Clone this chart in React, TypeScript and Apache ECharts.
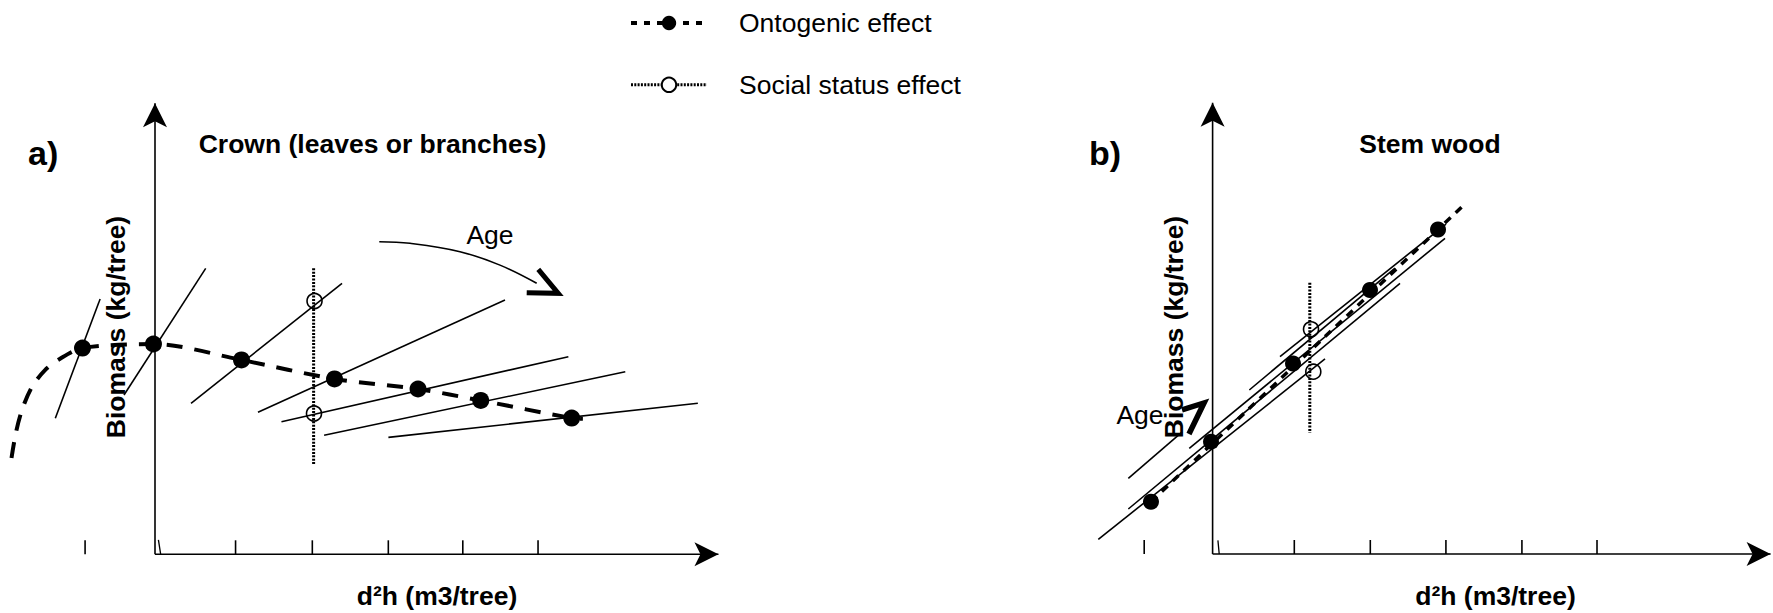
import React, { useEffect, useRef } from "react";
import * as echarts from "echarts";

type P = [number, number];

// ---------- Panel a: Crown (leaves or branches) — schematic units (1 = one tick step)
const crownTicks: number[] = [-0.92, 1.06, 2.07, 3.07, 4.05, 5.04];
const crownOriginTick: P[] = [[0.045, 0.19], [0.075, 0]];
const crownAxisY: P[] = [[0, 0], [0, 5.934]];
const crownAxisX: P[] = [[0, 0], [7.414, 0]];
const crownDots: P[] = [
  [-0.954, 2.714], [-0.02, 2.767], [1.138, 2.557], [2.362, 2.307],
  [3.461, 2.175], [4.286, 2.024], [5.483, 1.793],
];
const crownOntogenicLead: P[] = [
  [-1.888, 1.267], [-1.83, 1.6], [-1.75, 1.9], [-1.62, 2.2], [-1.45, 2.42], [-1.254, 2.57],
];
const crownOntogenicTail: P[] = [[5.63, 1.784]];
const crownAgeLines: P[][] = [
  [[-1.312, 1.789], [-0.722, 3.359]],
  [[-0.408, 2.096], [0.667, 3.763]],
  [[0.474, 1.987], [2.461, 3.566]],
  [[1.355, 1.868], [4.605, 3.346]],
  [[1.664, 1.745], [5.439, 2.6]],
  [[2.225, 1.566], [6.188, 2.403]],
  [[3.071, 1.539], [7.143, 1.987]],
];
const crownSocialLine: P[] = [[2.087, 3.763], [2.087, 1.188]];
const crownSocialCircles: P[] = [[2.099, 3.333], [2.092, 1.853]];
const crownAgeArrowCurve: P[] = [[2.951, 4.113], [3.355, 4.092], [4.013, 3.982], [4.539, 3.805], [5.022, 3.566]];
const crownAgeArrowHead: P[] = [[5.043, 3.75], [5.306, 3.434], [4.891, 3.442]];

// ---------- Panel b: Stem wood
const stemTicks: number[] = [-0.9, 1.075, 2.075, 3.07, 4.07, 5.058];
const stemOriginTick: P[] = [[0.07, 0.18], [0.087, 0]];
const stemAxisY: P[] = [[0, 0], [0, 5.938]];
const stemAxisX: P[] = [[0, 0], [7.342, 0]];
const stemDots: P[] = [
  [-0.811, 0.688], [-0.021, 1.478], [1.058, 2.507], [2.071, 3.474], [2.966, 4.27],
];
const stemOntogenicLine: P[] = [[-0.811, 0.688], [3.282, 4.57]];
const stemAgeLines: P[][] = [
  [[-1.504, 0.193], [1.479, 2.566]],
  [[-1.109, 0.592], [2.466, 3.562]],
  [[-0.307, 1.391], [3.058, 4.154]],
  [[0.483, 2.158], [2.4, 3.763]],
  [[0.887, 2.596], [3.071, 4.342]],
  [[-1.109, 0.996], [-0.403, 1.605]],
];
const stemSocialLine: P[] = [[1.279, 3.57], [1.279, 1.596]];
const stemSocialCircles: P[] = [[1.295, 2.957], [1.325, 2.399]];
const stemAgeArrowHead: P[] = [[-0.403, 1.895], [-0.113, 1.987], [-0.311, 1.579]];

const FONT = "'Liberation Sans', Arial, sans-serif";
const BLACK = "#000";

function lineSeries(gi: number, data: any[], width: number, extra: any = {}) {
  return {
    type: "line",
    xAxisIndex: gi,
    yAxisIndex: gi,
    data,
    symbol: "none",
    clip: false,
    silent: true,
    lineStyle: { color: BLACK, width },
    itemStyle: { color: BLACK, opacity: 1 },
    z: 2,
    ...extra,
  };
}

function arrowAxis(gi: number, pts: P[], rotate: number) {
  return lineSeries(
    gi,
    [
      { value: pts[0], symbol: "none" },
      { value: pts[1], symbol: "arrow", symbolSize: [18, 24], symbolRotate: rotate },
    ],
    1.6,
    { z: 3 }
  );
}

function panelSeries(
  gi: number,
  ticks: number[],
  originTick: P[],
  axisY: P[],
  axisX: P[],
  ontoPath: P[],
  ontoStyle: any,
  ontoSmooth: number,
  dots: P[],
  dotSize: number,
  ageLines: P[][],
  socialLine: P[],
  socialCircles: P[]
) {
  const s: any[] = [];
  s.push(arrowAxis(gi, axisY, 0));
  s.push(arrowAxis(gi, axisX, -90));
  s.push({
    type: "scatter",
    xAxisIndex: gi,
    yAxisIndex: gi,
    data: ticks.map((x) => [x, 0]),
    symbol: "rect",
    symbolSize: [1.6, 14],
    symbolOffset: [0, -7],
    itemStyle: { color: BLACK, opacity: 1 },
    clip: false,
    silent: true,
    z: 3,
  });
  s.push(lineSeries(gi, originTick, 1.3));
  ageLines.forEach((seg) => s.push(lineSeries(gi, seg, 1.6)));
  s.push(
    lineSeries(gi, ontoPath.map((p) => ({ value: p, symbol: "none" })), 4, {
      name: "Ontogenic effect",
      symbol: "circle",
      symbolSize: 16,
      smooth: ontoSmooth,
      lineStyle: { color: BLACK, ...ontoStyle },
      z: 4,
    })
  );
  s.push({
    type: "scatter",
    xAxisIndex: gi,
    yAxisIndex: gi,
    data: dots,
    symbol: "circle",
    symbolSize: dotSize,
    itemStyle: { color: BLACK, opacity: 1 },
    clip: false,
    silent: true,
    z: 6,
  });
  s.push(
    lineSeries(gi, socialLine.map((p) => ({ value: p, symbol: "none" })), 3, {
      name: "Social status effect",
      symbol: "emptyCircle",
      symbolSize: 15,
      lineStyle: { color: BLACK, width: 3, type: [2, 1.4] },
      z: 4,
    })
  );
  s.push({
    type: "scatter",
    xAxisIndex: gi,
    yAxisIndex: gi,
    data: socialCircles,
    symbol: "circle",
    symbolSize: 15,
    itemStyle: { color: "rgba(255,255,255,0)", borderColor: BLACK, borderWidth: 1.6, opacity: 1 },
    clip: false,
    silent: true,
    z: 6,
  });
  return s;
}

function txt(text: string, x: number, y: number, size: number, bold: boolean, align = "center", rotation = 0) {
  return {
    type: "text",
    x,
    y,
    rotation,
    silent: true,
    style: {
      text,
      fill: BLACK,
      font: `${bold ? "bold " : ""}${size}px ${FONT}`,
      align,
      verticalAlign: "middle",
    },
  };
}

export default function App() {
  const ref = useRef<HTMLDivElement>(null);
  useEffect(() => {
    if (!ref.current) return;
    const chart = echarts.init(ref.current, null, { renderer: "svg" });
    const series: any[] = [
      ...panelSeries(
        0, crownTicks, crownOriginTick, crownAxisY, crownAxisX,
        [...crownOntogenicLead, ...crownDots, ...crownOntogenicTail],
        { width: 4, type: [16, 12] }, 0.3,
        crownDots, 17, crownAgeLines, crownSocialLine, crownSocialCircles
      ),
      lineSeries(0, crownAgeArrowCurve, 1.6, { smooth: 0.4 }),
      lineSeries(0, crownAgeArrowHead, 5, { lineStyle: { color: BLACK, width: 5, join: "miter" } }),
      ...panelSeries(
        1, stemTicks, stemOriginTick, stemAxisY, stemAxisX,
        stemOntogenicLine,
        { width: 3.5, type: [8, 7] }, 0,
        stemDots, 16, stemAgeLines, stemSocialLine, stemSocialCircles
      ),
      lineSeries(1, stemAgeArrowHead, 5.5, { lineStyle: { color: BLACK, width: 5.5, join: "miter" } }),
    ];
    chart.setOption({
      animation: false,
      backgroundColor: "#fff",
      grid: [
        { left: 3, top: 22.3, width: 760, height: 532 },
        { left: 1060.6, top: 22, width: 710.6, height: 532 },
      ],
      xAxis: [
        { type: "value", gridIndex: 0, min: -2, max: 8, show: false },
        { type: "value", gridIndex: 1, min: -2, max: 7.35, show: false },
      ],
      yAxis: [
        { type: "value", gridIndex: 0, min: 0, max: 7, show: false },
        { type: "value", gridIndex: 1, min: 0, max: 7, show: false },
      ],
      legend: {
        left: 629,
        top: 9.5,
        padding: 0,
        orient: "vertical",
        itemWidth: 76,
        itemHeight: 18,
        itemGap: 34.8,
        selectedMode: false,
        textStyle: { fontFamily: FONT, fontSize: 26.5, color: BLACK, lineHeight: 26, padding: [0, 0, 0, 27] },
        data: [
          { name: "Ontogenic effect", lineStyle: { type: [6, 7], width: 4, color: BLACK } },
          { name: "Social status effect", lineStyle: { type: [2, 1.3], width: 3, color: BLACK } },
        ],
      },
      graphic: [
        txt("a)", 28, 153, 34, true, "left"),
        txt("b)", 1089, 153, 34, true, "left"),
        txt("Crown (leaves or branches)", 372.5, 144, 26.5, true),
        txt("Stem wood", 1430, 144, 26.5, true),
        txt("d²h (m3/tree)", 437, 596, 26.5, true),
        txt("d²h (m3/tree)", 1495.5, 596, 26.5, true),
        txt("Biomass (kg/tree)", 116, 327, 26.5, true, "center", Math.PI / 2),
        txt("Biomass (kg/tree)", 1174, 327, 26.5, true, "center", Math.PI / 2),
        txt("Age", 490, 235, 26.5, false),
        txt("Age", 1140, 415, 26.5, false),
      ],
      series,
    });
    return () => chart.dispose();
  }, []);
  return (
    <div
      ref={ref}
      style={{ position: "fixed", left: 0, top: 0, width: 1773, height: 613, background: "#fff" }}
    />
  );
}
